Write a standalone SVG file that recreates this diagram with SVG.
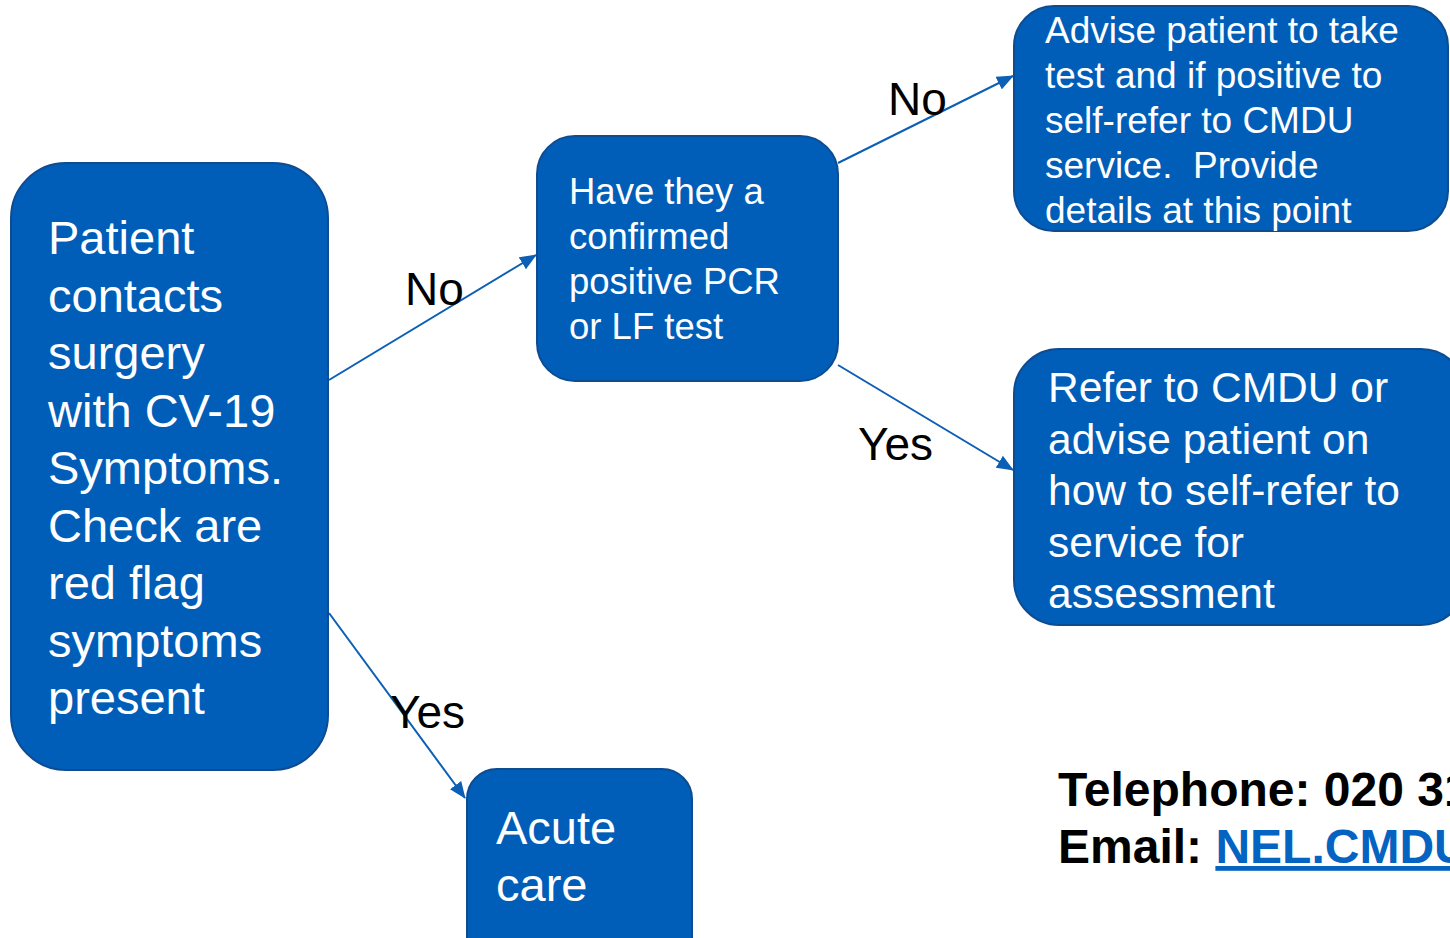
<svg xmlns="http://www.w3.org/2000/svg" width="1450" height="938" viewBox="0 0 1450 938">
<style>
.box{fill:#005EB8;stroke:#0E4C92;stroke-width:2}
.t{font-family:"Liberation Sans",Arial,sans-serif;fill:#ffffff}
.lbl{font-family:"Liberation Sans",Arial,sans-serif;fill:#000000;font-size:46px}
.edge{stroke:#0B5FB5;stroke-width:2;fill:none;marker-end:url(#ah)}
.contact{font-family:"Liberation Sans",Arial,sans-serif;font-weight:bold;font-size:48px;fill:#000}
</style>
<defs>
<marker id="ah" markerUnits="userSpaceOnUse" markerWidth="18" markerHeight="14" refX="16" refY="7" orient="auto">
<path d="M0,0 L17,7 L0,14 z" fill="#0B5FB5"/>
</marker>
</defs>
<rect width="1450" height="938" fill="#ffffff"/>
<g id="connectors">
<line class="edge" x1="329" y1="380" x2="536" y2="255"/>
<line class="edge" x1="329" y1="613" x2="465" y2="798"/>
<line class="edge" x1="838" y1="163" x2="1013" y2="76"/>
<line class="edge" x1="838" y1="365" x2="1013" y2="470"/>
</g>
<g id="node-patient">
<rect class="box" x="11" y="163" width="317" height="607" rx="55" ry="55"/>
<text class="t" font-size="47">
<tspan x="48" y="254">Patient</tspan>
<tspan x="48" y="311.5">contacts</tspan>
<tspan x="48" y="369">surgery</tspan>
<tspan x="48" y="426.5">with CV-19</tspan>
<tspan x="48" y="484">Symptoms.</tspan>
<tspan x="48" y="541.5">Check are</tspan>
<tspan x="48" y="599">red flag</tspan>
<tspan x="48" y="656.5">symptoms</tspan>
<tspan x="48" y="714">present</tspan>
</text>
</g>
<g id="node-confirmed">
<rect class="box" x="537" y="136" width="301" height="245" rx="38" ry="38"/>
<text class="t" font-size="36.5">
<tspan x="569" y="204">Have they a</tspan>
<tspan x="569" y="249">confirmed</tspan>
<tspan x="569" y="294">positive PCR</tspan>
<tspan x="569" y="339">or LF test</tspan>
</text>
</g>
<g id="node-advise">
<rect class="box" x="1014" y="6" width="434" height="225" rx="40" ry="40"/>
<text class="t" font-size="37" xml:space="preserve"><tspan x="1045" y="43">Advise patient to take</tspan><tspan x="1045" y="88">test and if positive to</tspan><tspan x="1045" y="133">self-refer to CMDU</tspan><tspan x="1045" y="178">service.  Provide</tspan><tspan x="1045" y="223">details at this point</tspan></text>
</g>
<g id="node-refer">
<rect class="box" x="1014" y="349" width="452" height="276" rx="45" ry="45"/>
<text class="t" font-size="42.5">
<tspan x="1048" y="402">Refer to CMDU or</tspan>
<tspan x="1048" y="453.5">advise patient on</tspan>
<tspan x="1048" y="505">how to self-refer to</tspan>
<tspan x="1048" y="556.5">service for</tspan>
<tspan x="1048" y="608">assessment</tspan>
</text>
</g>
<g id="node-acute">
<rect class="box" x="467" y="769" width="225" height="200" rx="30" ry="30"/>
<text class="t" font-size="47">
<tspan x="496" y="844">Acute</tspan>
<tspan x="496" y="901">care</tspan>
</text>
</g>
<g id="labels">
<text class="lbl" x="405" y="305">No</text>
<text class="lbl" x="888" y="115">No</text>
<text class="lbl" x="858" y="460">Yes</text>
<text class="lbl" x="390" y="728">Yes</text>
</g>
<g id="contact">
<text class="contact" x="1058" y="806">Telephone: 020 31</text>
<text class="contact" x="1058" y="863">Email: <tspan fill="#0563C1" text-decoration="underline">NEL.CMDU</tspan></text>
</g>
</svg>
